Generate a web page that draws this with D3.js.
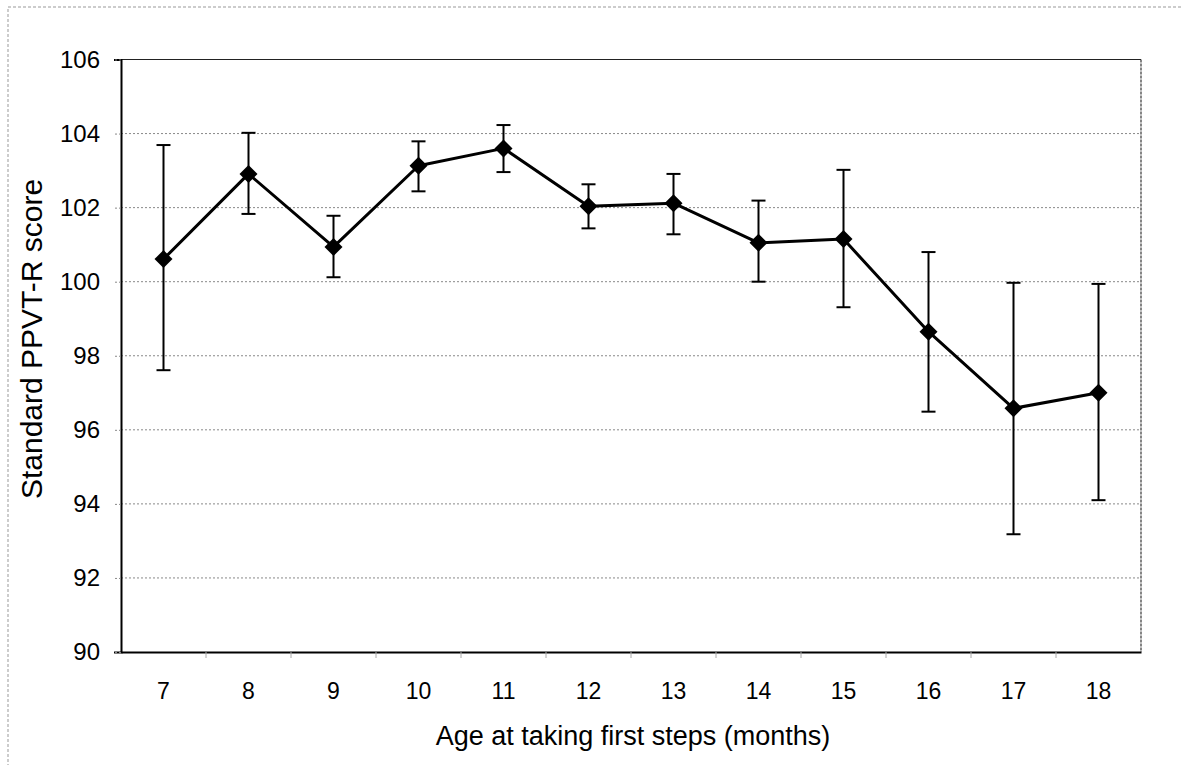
<!DOCTYPE html>
<html><head><meta charset="utf-8">
<script src="https://cdn.jsdelivr.net/npm/d3@7"></script>
<style>body{margin:0;background:#fff;} svg{display:block;font-family:"Liberation Sans",Arial,sans-serif;}</style>
</head><body>
<svg id="chart" width="1181" height="765"></svg>
<script>
const ages = [7, 8, 9, 10, 11, 12, 13, 14, 15, 16, 17, 18];
const meanScore = [100.61, 102.91, 100.94, 103.13, 103.60, 102.04, 102.12, 101.05, 101.15, 98.65, 96.58, 97.00];
const upperBar = [103.69, 104.02, 101.78, 103.79, 104.23, 102.63, 102.91, 102.19, 103.02, 100.80, 99.97, 99.94];
const lowerBar = [97.61, 101.83, 100.12, 102.44, 102.96, 101.44, 101.28, 100.00, 99.31, 96.49, 93.18, 94.10];
const yTicks = [90, 92, 94, 96, 98, 100, 102, 104, 106];
const xTitle = "Age at taking first steps (months)";
const yTitle = "Standard PPVT-R score";

const svg = d3.select("#chart");
const L = 121, R = 1141, T = 59.5, B = 652;
const FF = "Liberation Sans, Arial, sans-serif";

// outer dashed frame
svg.append("rect").attr("x", 8).attr("y", 7).attr("width", 1190).attr("height", 800)
  .attr("fill", "none").attr("stroke", "#999").attr("stroke-width", 1).attr("stroke-dasharray", "3,2");

const x = d3.scaleBand().domain(ages).range([L, R]);
const y = d3.scaleLinear().domain([90, 106]).range([B, T]);

// gridlines
svg.append("g").selectAll("line").data(yTicks.filter(t => t > 90 && t < 106)).join("line")
  .attr("x1", L).attr("x2", R).attr("y1", d => y(d)).attr("y2", d => y(d))
  .attr("stroke", "#888").attr("stroke-width", 1).attr("stroke-dasharray", "2,2");

// plot frame
svg.append("line").attr("x1", L).attr("x2", R).attr("y1", T).attr("y2", T).attr("stroke", "#222").attr("stroke-width", 1.2);
svg.append("line").attr("x1", R).attr("x2", R).attr("y1", T).attr("y2", B).attr("stroke", "#333").attr("stroke-width", 1.2).attr("stroke-dasharray", "3,1");

// y axis
const yAxis = d3.axisLeft(y).tickValues(yTicks).tickSize(7).tickPadding(14).tickFormat(d3.format("d"));
const gy = svg.append("g").attr("transform", `translate(${L},0)`).call(yAxis);
gy.select(".domain").attr("stroke", "#000").attr("stroke-width", 2);
gy.selectAll(".tick line").attr("stroke", "#888").attr("stroke-dasharray", "2,2");
gy.selectAll(".tick text").attr("font-size", 24).attr("fill", "#000").attr("font-family", FF);

// x axis
const xAxis = d3.axisBottom(x).tickSize(0).tickPadding(31);
const gx = svg.append("g").attr("transform", `translate(0,${B})`).call(xAxis);
gx.select(".domain").attr("stroke", "#000").attr("stroke-width", 2);
gx.selectAll(".tick text").attr("font-size", 23).attr("fill", "#000").attr("font-family", FF);
// small category separators
svg.append("g").selectAll("line").data(ages.slice(1)).join("line")
  .attr("x1", d => x(d)).attr("x2", d => x(d)).attr("y1", B).attr("y2", B + 6)
  .attr("stroke", "#aaa").attr("stroke-width", 1);

// axis titles
svg.append("text").attr("x", 633).attr("y", 745).attr("text-anchor", "middle")
  .attr("font-size", 27).attr("fill", "#000").attr("font-family", FF).text(xTitle);
svg.append("text").attr("transform", `translate(42,339) rotate(-90)`).attr("text-anchor", "middle")
  .attr("font-size", 30).attr("fill", "#000").attr("font-family", FF).text(yTitle);

const cx = d => x(d) + x.bandwidth() / 2;
const data = ages.map((a, i) => ({a, m: meanScore[i], hi: upperBar[i], lo: lowerBar[i]}));

// error bars
const eb = svg.append("g").attr("stroke", "#000").attr("stroke-width", 2);
eb.selectAll("line.v").data(data).join("line").attr("class", "v")
  .attr("x1", d => cx(d.a)).attr("x2", d => cx(d.a)).attr("y1", d => y(d.hi)).attr("y2", d => y(d.lo));
eb.selectAll("line.h").data(data).join("line").attr("class", "h")
  .attr("x1", d => cx(d.a) - 7).attr("x2", d => cx(d.a) + 7).attr("y1", d => y(d.hi)).attr("y2", d => y(d.hi));
eb.selectAll("line.l").data(data).join("line").attr("class", "l")
  .attr("x1", d => cx(d.a) - 7).attr("x2", d => cx(d.a) + 7).attr("y1", d => y(d.lo)).attr("y2", d => y(d.lo));

// line
svg.append("path").datum(data)
  .attr("d", d3.line().x(d => cx(d.a)).y(d => y(d.m)))
  .attr("fill", "none").attr("stroke", "#000").attr("stroke-width", 3).attr("stroke-linejoin", "round");

// diamond markers
svg.append("g").selectAll("path").data(data).join("path")
  .attr("transform", d => `translate(${cx(d.a)},${y(d.m)})`)
  .attr("d", "M0,-9L9,0L0,9L-9,0Z").attr("fill", "#000");
</script>
</body></html>
